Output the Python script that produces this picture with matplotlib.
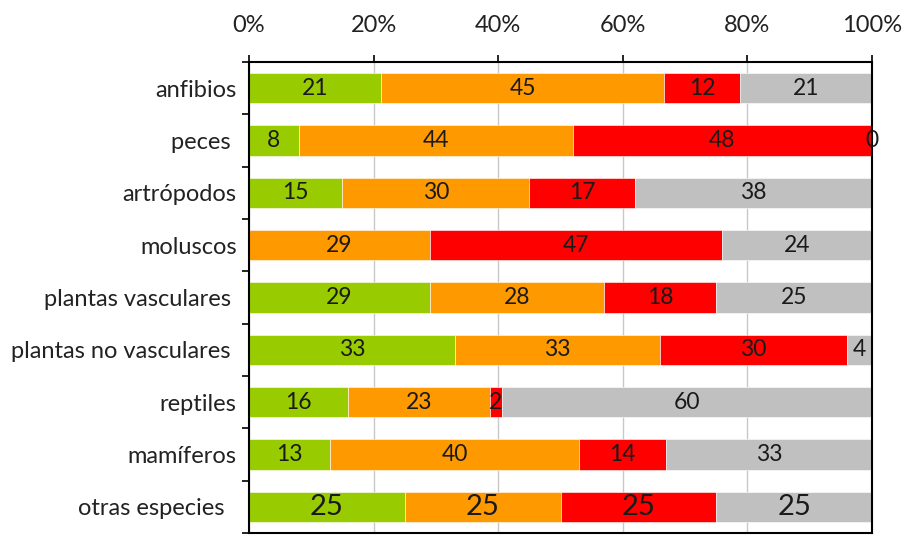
import numpy as np
import matplotlib
matplotlib.use("Agg")
import matplotlib.pyplot as plt
from matplotlib.ticker import FixedLocator, PercentFormatter

plt.rcParams['font.family'] = ['Lato', 'DejaVu Sans']

# data
categories = ['anfibios', 'peces ', 'artrópodos', 'moluscos', 'plantas vasculares ',
              'plantas no vasculares ', 'reptiles', 'mamíferos', 'otras especies  ']
green  = [21, 8, 15, None, 29, 33, 16, 13, 25]
orange = [45, 44, 30, 29, 28, 33, 23, 40, 25]
red    = [12, 48, 17, 47, 18, 30, 2, 14, 25]
grey   = [21, 0, 38, 24, 25, 4, 60, 33, 25]

series = [green, orange, red, grey]
colors = ['#99CC00', '#FF9900', '#FF0000', '#C0C0C0']

vals = np.array([[0 if v is None else v for v in s] for s in series], dtype=float)
totals = vals.sum(axis=0)
pct = vals / totals * 100

fig = plt.figure(figsize=(9.02, 5.35), dpi=100)
ax = fig.add_axes([249 / 902, 2 / 535, 623 / 902, 471 / 535])

y = np.arange(len(categories))
left = np.zeros(len(categories))
for k in range(len(series)):
    ax.barh(y, pct[k], left=left, height=0.58, color=colors[k],
            edgecolor='white', linewidth=0.4, zorder=2)
    for i in range(len(categories)):
        if series[k][i] is None:
            continue
        fs = 21 if i == len(categories) - 1 else 16.5
        ax.text(left[i] + pct[k][i] / 2, y[i], str(series[k][i]),
                ha='center', va='center', fontsize=fs, color='#1a1a1a', zorder=3)
    left += pct[k]

ax.set_xlim(0, 100)
ax.set_ylim(len(categories) - 0.5, -0.5)

ax.xaxis.tick_top()
ax.set_xticks([0, 20, 40, 60, 80, 100])
ax.xaxis.set_major_formatter(PercentFormatter(decimals=0))
ax.tick_params(axis='x', direction='out', length=5, width=1.2, labelsize=17,
               pad=14, colors='black', labelcolor='#222222')

ax.set_yticks(y)
ax.set_yticklabels(categories)
ax.yaxis.set_minor_locator(FixedLocator(np.arange(-0.5, len(categories), 1)))
ax.tick_params(axis='y', which='major', length=0, labelsize=17, pad=9, labelcolor='#222222')
ax.tick_params(axis='y', which='minor', direction='out', length=5, width=1.2)

ax.grid(axis='x', color='#c8c8c8', linewidth=1, zorder=0)
ax.set_axisbelow(True)
for s in ax.spines.values():
    s.set_color('black')
    s.set_linewidth(1.5)

fig.savefig('out.png', dpi=100)
